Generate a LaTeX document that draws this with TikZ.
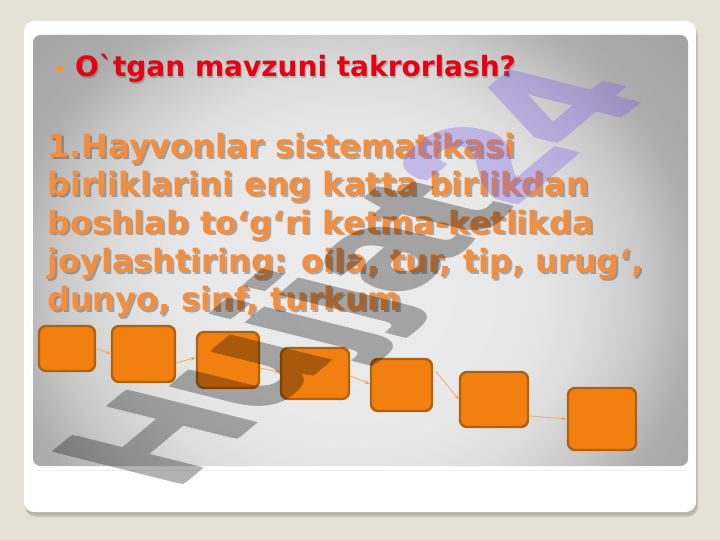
\documentclass[tikz,border=0pt]{standalone}
\usepackage{fontspec}
\usetikzlibrary{arrows.meta}
\newfontfamily\dejav{DejaVu Sans}
\newfontfamily\wmfont{Liberation Sans}
\definecolor{bgbeige}{RGB}{230,225,214}
\definecolor{cardshadow}{RGB}{175,168,155}
\definecolor{pc0}{RGB}{236,236,236}
\definecolor{pc1}{RGB}{232,232,232}
\definecolor{pc2}{RGB}{220,220,220}
\definecolor{pc3}{RGB}{200,200,200}
\definecolor{pc4}{RGB}{182,182,182}
\definecolor{pc5}{RGB}{172,172,172}
\definecolor{pc6}{RGB}{164,164,164}
\definecolor{titlered}{RGB}{230,0,18}
\definecolor{bodyorange}{RGB}{243,142,62}
\definecolor{bulletorange}{RGB}{240,150,50}
\definecolor{boxfill}{RGB}{242,128,16}
\definecolor{boxline}{RGB}{178,96,14}
\definecolor{arrowc}{RGB}{238,168,105}
\definecolor{wmpurple}{RGB}{110,80,235}
\pgfdeclareradialshading{panelshade}{\pgfpoint{0bp}{0bp}}{color(0bp)=(pc0); color(6bp)=(pc1); color(8.5bp)=(pc2); color(10.5bp)=(pc3); color(11.75bp)=(pc4); color(12.5bp)=(pc5); color(15bp)=(pc6); color(50bp)=(pc6)}
\tikzset{
  obox/.style={draw=boxline, fill=boxfill, line width=2.4pt, rounded corners=7pt, inner sep=0pt},
  conn/.style={draw=arrowc, line width=0.8pt, -{Stealth[length=5pt,width=4pt]}},
  bodyline/.style={anchor=base west, inner sep=0pt, font=\dejav\bfseries\fontsize{32}{38}\selectfont},
  titlefont/.style={anchor=base west, inner sep=0pt, font=\dejav\bfseries\fontsize{28}{32}\selectfont},
  wmtext/.style={transform shape, anchor=base west, inner sep=0pt, text=black,
      font=\wmfont\bfseries\fontsize{100}{100}\selectfont}
}
\begin{document}
\begin{tikzpicture}[x=1pt,y=-1pt]
\useasboundingbox (0,0) rectangle (720,540);
\fill[bgbeige] (0,0) rectangle (720,540);
% card shadow and card
\fill[cardshadow, opacity=0.5, rounded corners=11pt] (25,25) rectangle (698,517);
\fill[cardshadow, opacity=0.6, rounded corners=10pt] (25,24) rectangle (697,515);
\fill[white, rounded corners=10pt] (24,21) rectangle (696,512);
% panel
\begin{scope}
\clip[rounded corners=8pt] (33,35) rectangle (688,466);
\fill[pc6] (33,35) rectangle (688,466);
\shade[shading=panelshade] (350,290) ellipse [x radius=700, y radius=640];
\end{scope}
\draw[gray!12, line width=0.8pt] (37,470) -- (686,470);
% title
\fill[bulletorange] (60,69) circle (3.6);
\node[titlefont, text=black, text opacity=0.18] at (76.2,78.2) {O\char"60 tgan mavzuni takrorlash?};
\node[titlefont, text=titlered] (title) at (75,77) {O\char"60 tgan mavzuni takrorlash?};
% body text: shadow then text
\foreach \t/\yy in {{1.Hayvonlar sistematikasi}/158,{birliklarini eng katta birlikdan}/196,{boshlab to‘g‘ri ketma-ketlikda}/234,{joylashtiring: oila, tur, tip, urug‘,}/272,{dunyo, sinf, turkum}/310}{
  \node[bodyline, text=black, text opacity=0.28] at (49,\yy+2) {\t};
}
\node[bodyline, text=bodyorange] (l1) at (47,158) {1.Hayvonlar sistematikasi};
\node[bodyline, text=bodyorange] (l2) at (47,196) {birliklarini eng katta birlikdan};
\node[bodyline, text=bodyorange] (l3) at (47,234) {boshlab to‘g‘ri ketma-ketlikda};
\node[bodyline, text=bodyorange] (l4) at (47,272) {joylashtiring: oila, tur, tip, urug‘,};
\node[bodyline, text=bodyorange] (l5) at (47,310) {dunyo, sinf, turkum};
% boxes
\node[obox, minimum width=56pt, minimum height=45pt] (b1) at (67,348.5) {};
\node[obox, minimum width=63pt, minimum height=56pt] (b2) at (143.5,354) {};
\node[obox, minimum width=62pt, minimum height=56pt] (b3) at (228,360) {};
\node[obox, minimum width=68pt, minimum height=51pt] (b4) at (315,373.5) {};
\node[obox, minimum width=61pt, minimum height=52pt] (b5) at (401.5,385) {};
\node[obox, minimum width=68pt, minimum height=55pt] (b6) at (494,399.5) {};
\node[obox, minimum width=68pt, minimum height=62pt] (b7) at (602,419) {};
% connectors
\draw[conn] (b1.east) -- (b2.west);
\draw[conn] (b2.-15) -- (b3.176);
\draw[conn] (b3.-14) -- (b4.178);
\draw[conn] (b4.-4) -- (b5.178);
\draw[conn, shorten <=4pt] (b5.28) -- (b6.180);
\draw[conn] (b6.-25) -- (b7.180);
% watermark
\begin{scope}[transparency group, opacity=0.3]
\begin{scope}[cm={1.22,1.02,-1.84,0.46,(175,492)}]
\foreach \dx/\dy in {0/0,2.5/0,0/-2.5,2.5/-2.5}{
  \node[wmtext] at (\dx,\dy) {Hujjat\textcolor{wmpurple}{24}};
}
\end{scope}
\end{scope}
\end{tikzpicture}
\end{document}
